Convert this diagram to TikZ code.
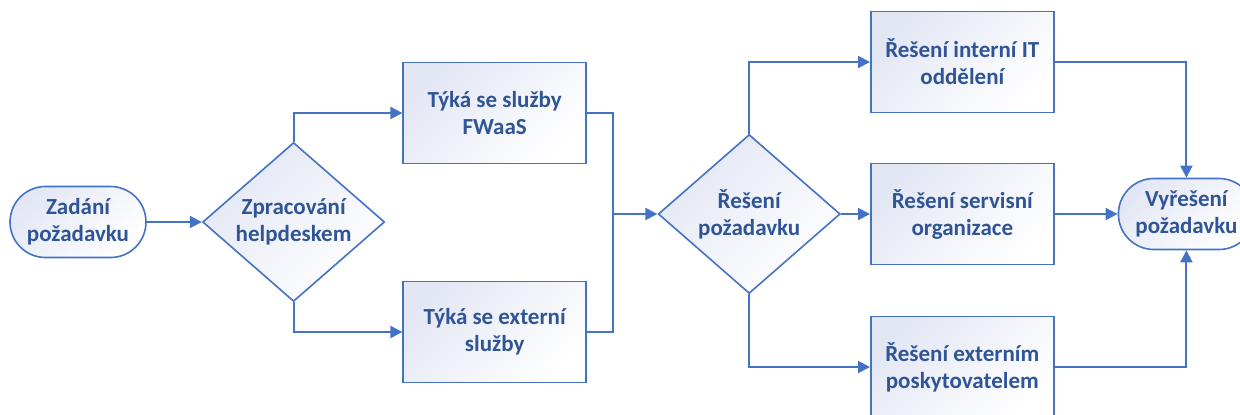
\documentclass[tikz,border=0pt]{standalone}
\usepackage{fontspec}
\setmainfont{Carlito}
\usepackage{tikz}
\usepackage{xcolor}
\usetikzlibrary{shapes.geometric, arrows.meta, positioning}
\definecolor{flowline}{HTML}{4472C4}
\definecolor{flowtext}{HTML}{2F5597}
\definecolor{flowfill}{HTML}{E3E7F4}
\tikzstyle{terminal} = [rectangle, rounded corners=17.75pt, minimum width=68pt, minimum height=35.5pt, align=center, draw=flowline, line width=0.8pt, top color=flowfill, bottom color=white, shading angle=45, text=flowtext, font=\bfseries\fontsize{11.5}{13.5}\selectfont]
\tikzstyle{decision} = [diamond, aspect=1.15, minimum width=91pt, minimum height=79.5pt, inner sep=0pt, align=center, draw=flowline, line width=0.8pt, top color=flowfill, bottom color=white, shading angle=45, text=flowtext, font=\bfseries\fontsize{11.5}{13.5}\selectfont]
\tikzstyle{process} = [rectangle, minimum width=91.5pt, minimum height=50.5pt, align=center, draw=flowline, line width=0.8pt, top color=flowfill, bottom color=white, shading angle=45, text=flowtext, font=\bfseries\fontsize{11.5}{13.5}\selectfont]
\tikzstyle{arrow} = [draw=flowline, line width=1pt, -{Triangle[length=6pt,width=6pt]}]
\tikzstyle{line} = [draw=flowline, line width=1pt, -]
\begin{document}
\begin{tikzpicture}
\useasboundingbox (-39pt,-96pt) rectangle (581pt,111pt);

% Zadani
\node (zadani) [terminal] at (0,0) {Zadání\\požadavku};

% Helpdesk
\node (helpdesk) [decision, right=27.5pt of zadani] {Zpracování\\helpdeskem};

% Typ sluzby
\node (fwaas) [process, right=8.5pt of helpdesk, yshift=54.5pt] {Týká se služby\\FWaaS};
\node (externi) [process, right=8.5pt of helpdesk, yshift=-55pt] {Týká se externí\\služby};

% Reseni
\node (reseni) [decision, right=136pt of helpdesk, yshift=4pt] {Řešení\\požadavku};
\coordinate (spoj) at ([xshift=13pt]fwaas.east |- reseni.west);

% Varianty reseni
\node (interni) [process, right=14.5pt of reseni, yshift=76pt] {Řešení interní IT\\oddělení};
\node (servis) [process, right=14.5pt of reseni] {Řešení servisní\\organizace};
\node (poskyt) [process, right=14.5pt of reseni, yshift=-76.5pt] {Řešení externím\\poskytovatelem};

% Vyreseni
\node (vyreseni) [terminal, right=31.5pt of servis] {Vyřešení\\požadavku};

% Arrows
\draw [arrow] (zadani) -- (helpdesk);
\draw [arrow] (helpdesk.north) |- (fwaas);
\draw [arrow] (helpdesk.south) |- (externi);

\draw [line] (fwaas.east) -| (spoj);
\draw [line] (externi.east) -| (spoj);
\draw [arrow] (spoj) -- (reseni);

\draw [arrow] (reseni.north) |- (interni);
\draw [arrow] (reseni) -- (servis);
\draw [arrow] (reseni.south) |- (poskyt);

\draw [arrow] (interni) -| (vyreseni);
\draw [arrow] (servis) -- (vyreseni);
\draw [arrow] (poskyt) -| (vyreseni);

\end{tikzpicture}
\end{document}
